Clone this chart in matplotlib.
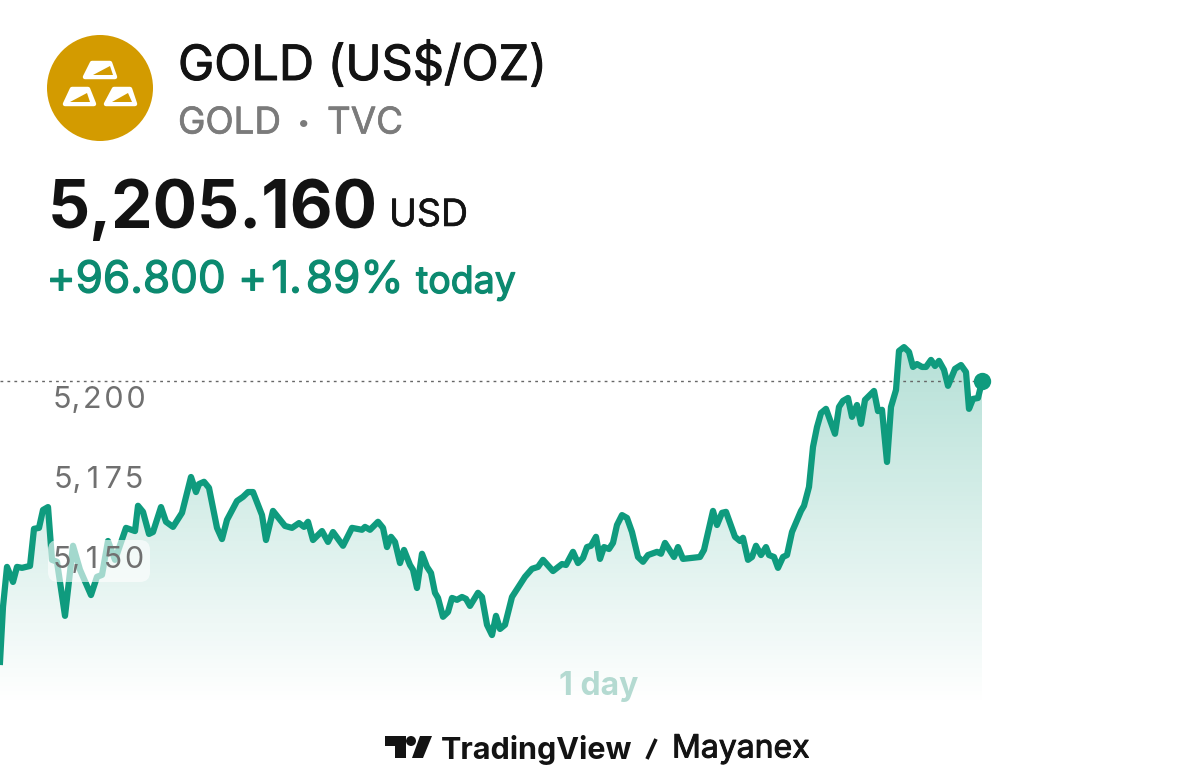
import numpy as np
import matplotlib.pyplot as plt
import matplotlib.patheffects as pe
from matplotlib.patches import Circle, Polygon, FancyBboxPatch

plt.rcParams['font.family'] = ['Inter', 'DejaVu Sans']

# Price curve
session_x = [0, 3, 7, 13, 17, 22, 30, 34, 39, 43, 48, 52, 57, 65, 73, 80, 91, 97, 102, 108,
             115, 126, 135, 138, 143, 149, 153, 161, 166, 173, 182, 191, 196, 199, 204, 209, 217, 222, 227, 237,
             243, 248, 253, 262, 266, 273, 285, 292, 299, 304, 308, 313, 322, 328, 333, 343, 352, 362, 365, 370,
             378, 383, 387, 391, 395, 400, 404, 410, 413, 417, 422, 427, 431, 435, 438, 443, 448, 452, 457, 462,
             466, 470, 478, 482, 487, 492, 496, 500, 505, 512, 525, 532, 538, 543, 553, 562, 566, 573, 578, 583,
             587, 591, 596, 600, 604, 609, 613, 617, 622, 627, 632, 638, 643, 648, 657, 661, 665, 674, 678, 683,
             700, 704, 713, 717, 722, 726, 735, 740, 743, 748, 752, 756, 761, 766, 769, 774, 778, 783, 787, 792,
             801, 804, 809, 813, 817, 821, 826, 835, 839, 843, 848, 852, 857, 861, 865, 874, 878, 882, 887, 891,
             896, 899, 904, 909, 913, 917, 922, 926, 931, 935, 939, 944, 948, 955, 961, 966, 969, 973, 978, 982]
prices = [5117.5, 5134.7, 5147.2, 5142.5, 5147.2, 5146.9, 5147.5, 5159.1, 5159.4, 5165.0,
          5165.9, 5149.4, 5148.8, 5131.9, 5153.8, 5146.3, 5138.4, 5144.1, 5144.7, 5155.3,
          5149.4, 5159.4, 5158.4, 5166.3, 5164.4, 5157.5, 5158.1, 5165.9, 5161.3, 5159.7,
          5164.1, 5175.3, 5170.6, 5173.1, 5173.8, 5171.9, 5159.4, 5155.9, 5161.9, 5167.8,
          5169.1, 5170.6, 5170.6, 5163.4, 5155.6, 5164.7, 5160.0, 5159.4, 5160.9, 5159.7,
          5161.3, 5155.6, 5158.4, 5155.0, 5158.1, 5153.8, 5159.4, 5158.8, 5159.7, 5158.8,
          5161.3, 5159.4, 5153.4, 5156.6, 5155.0, 5148.4, 5152.5, 5147.8, 5146.3, 5140.6,
          5151.3, 5147.2, 5145.3, 5139.1, 5137.5, 5131.6, 5133.1, 5137.5, 5136.9, 5137.8,
          5137.2, 5135.0, 5139.1, 5137.8, 5129.1, 5125.9, 5131.9, 5127.8, 5129.1, 5137.8,
          5144.1, 5146.6, 5147.2, 5149.4, 5145.9, 5148.1, 5147.8, 5151.9, 5148.4, 5150.0,
          5153.4, 5153.8, 5156.6, 5149.7, 5153.4, 5152.8, 5154.7, 5160.3, 5163.4, 5162.5,
          5158.1, 5150.3, 5148.8, 5150.9, 5151.9, 5151.3, 5154.7, 5150.3, 5153.4, 5149.7,
          5150.3, 5152.5, 5164.7, 5160.3, 5164.1, 5164.4, 5156.6, 5155.3, 5156.3, 5149.4,
          5150.3, 5153.8, 5150.9, 5153.4, 5150.9, 5150.3, 5146.9, 5150.3, 5150.9, 5158.1,
          5164.7, 5166.3, 5172.2, 5184.7, 5190.9, 5195.3, 5196.6, 5188.8, 5197.2, 5199.1,
          5200.0, 5194.1, 5197.8, 5191.9, 5199.4, 5202.2, 5195.9, 5196.3, 5180.0, 5197.2,
          5202.5, 5214.7, 5215.9, 5214.4, 5209.7, 5210.6, 5209.7, 5209.7, 5211.9, 5210.0,
          5211.6, 5208.8, 5203.8, 5209.1, 5210.3, 5208.1, 5196.6, 5199.7, 5200.0, 5205.16]
y_ticks = [5200, 5175, 5150]
y_tick_labels = ['5,\u200a2\u200a0\u200a0', '5,\u200a\u200a1\u200a\u200a7\u200a5', '5,\u200a\u200a1\u200a\u200a5\u200a0']
last_price = 5205.16

GREEN = '#0f9b7e'
HEAVY = [pe.withStroke(linewidth=0.7, foreground='#131313')]
HEAVY_GREEN = [pe.withStroke(linewidth=0.9, foreground='#0c8a70')]
HEAVY_GREY = [pe.withStroke(linewidth=0.5, foreground='#7b7b7b')]

fig = plt.figure(figsize=(12, 7.79), dpi=100)

# chart in data units
ax = fig.add_axes([0, 0, 1, 1])
ax.axis('off')

# gradient under the line, clipped to the area below the curve
grad = np.zeros((256, 1, 4))
grad[:, :, :3] = (0.06, 0.61, 0.49)
grad[:, 0, 3] = np.linspace(0.31, 0.0, 256)
area = ax.fill_between(session_x, prices, 5080.9, color='none')
im = ax.imshow(grad, extent=[0, 982, 5104, 5216], origin='upper', aspect='auto', zorder=1)
im.set_clip_path(area.get_paths()[0], ax.transData)
ax.set_xlim(0, 1200)
ax.set_ylim(5080.9, 5324.4)

ax.plot([0, 982], [last_price, last_price], color='#666666', lw=1, ls=(0, (2, 3)), zorder=2)
ax.plot(session_x, prices, color=GREEN, lw=4.5, solid_joinstyle='round', zorder=3)
ax.plot(session_x[-1], prices[-1], 'o', color=GREEN, ms=12.5, mew=0, zorder=4)

# overlay in pixels of the picture for header, logos and labels
ov = fig.add_axes([0, 0, 1, 1], facecolor='none')
ov.set_xlim(0, 1200)
ov.set_ylim(779, 0)
ov.axis('off')

ov.add_patch(FancyBboxPatch((48, 540), 102, 42, boxstyle='round,pad=0,rounding_size=10',
                            fc='white', ec='none', alpha=0.62, zorder=5))
for tick, lab in zip(y_ticks, y_tick_labels):
    ypx = 400 + (5200 - tick) * 3.2
    ov.text(99, ypx, lab, ha='center', va='center', fontsize=22, color='#707070', zorder=6)

# gold logo
ov.add_patch(Circle((100, 88), 53, fc='#d39b00', ec='none', zorder=5))
bars = [[(85, 77), (92, 63), (110, 63), (115, 77)],
        [(65, 104), (72, 89), (88, 89), (94, 104)],
        [(106, 104), (114, 89), (130, 89), (135, 104)]]
shines = [[(93, 75), (110, 66), (113, 75)],
          [(70, 102), (87, 93), (90, 102)],
          [(112, 102), (128, 93), (132, 102)]]
for b in bars:
    ov.add_patch(Polygon(b, closed=True, fc='white', ec='white', lw=3.2, joinstyle='round', zorder=6))
for s in shines:
    ov.add_patch(Polygon(s, closed=True, fc='#d39b00', ec='none', zorder=7))

# header text
ov.text(178, 66, 'GOLD (US$/OZ)', fontsize=35, color='#131313', va='center', path_effects=HEAVY)
ov.text(178, 124, 'GOLD', fontsize=26.5, color='#7b7b7b', va='center', path_effects=HEAVY_GREY)
ov.text(304, 124, '•', fontsize=17, color='#7b7b7b', va='center', ha='center')
ov.text(327, 124, 'TVC', fontsize=26.5, color='#7b7b7b', va='center', path_effects=HEAVY_GREY)
ov.text(47.5, 210, '5,205.160', fontsize=47.5, color='#131313', va='center', fontweight='bold')
ov.text(389, 216, 'USD', fontsize=27, color='#131313', va='center', path_effects=[pe.withStroke(linewidth=0.4, foreground='#131313')])
ov.text(46.5, 281, '+96.800 +\u200a1.\u200a89%', fontsize=31.7, color='#0c8a70', va='center', path_effects=HEAVY_GREEN)
ov.text(416, 283, 'today', fontsize=27, color='#0c8a70', va='center', path_effects=HEAVY_GREEN)

ov.text(599, 687, '1 day', fontsize=23, color='#b4dad1', va='center', ha='center', fontweight='bold')

# TradingView mark and footer
ov.add_patch(Polygon([(385, 736), (406, 736), (406, 758), (395, 758), (395, 746), (385, 746)],
                     closed=True, fc='#131313', ec='none'))
ov.add_patch(Circle((411, 741), 5, fc='#131313', ec='none'))
ov.add_patch(Polygon([(420, 736), (432, 736), (423, 758), (412, 758)], closed=True, fc='#131313', ec='none'))
ov.text(441, 750, 'TradingView', fontsize=22, color='#131313', va='center', fontweight='bold')
ov.plot([647, 656], [759, 739], color='#131313', lw=2.6, solid_capstyle='butt')
ov.text(672, 749, 'Mayanex', fontsize=23, color='#131313', va='center', path_effects=HEAVY)

fig.savefig('out.png', dpi=100)
